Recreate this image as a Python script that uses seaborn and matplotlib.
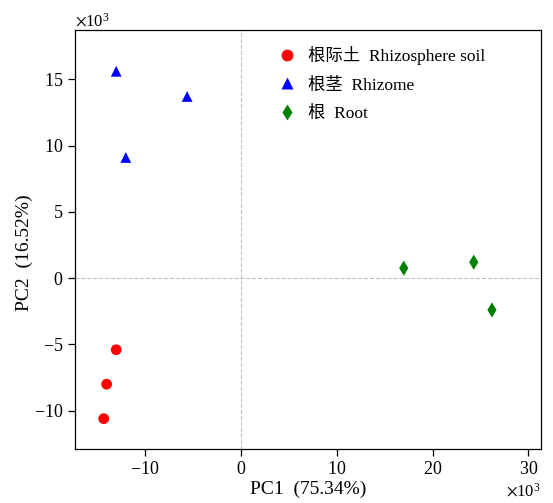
import pandas as pd
import matplotlib
matplotlib.use("Agg")
import matplotlib.pyplot as plt
import seaborn as sns
from matplotlib.ticker import ScalarFormatter

# =========================
# DATA
# =========================

groups = ["根际土  Rhizosphere soil", "根茎  Rhizome", "根  Root"]

soil_pc1 = [-14300, -14000, -13000]
soil_pc2 = [-10600, -8000, -5400]

rhizome_pc1 = [-13000, -5600, -12000]
rhizome_pc2 = [15600, 13700, 9100]

root_pc1 = [17000, 24300, 26200]
root_pc2 = [750, 1200, -2400]

df = pd.DataFrame({
    "PC1": soil_pc1 + rhizome_pc1 + root_pc1,
    "PC2": soil_pc2 + rhizome_pc2 + root_pc2,
    "group": [groups[0]] * 3 + [groups[1]] * 3 + [groups[2]] * 3,
})

# =========================
# PLOT
# =========================

sns.set_style("ticks", {
    "axes.edgecolor": "black",
    "text.color": "black",
    "axes.labelcolor": "black",
    "xtick.color": "black",
    "ytick.color": "black",
})
plt.rcParams['font.family'] = ['Liberation Serif', 'Noto Sans CJK SC']
plt.rcParams['mathtext.fontset'] = 'stix'

fig, ax = plt.subplots(figsize=(5.53, 5.03), dpi=100)

ax.axvline(0, color='#c0c0c0', linestyle='--', linewidth=0.8, zorder=0)
ax.axhline(0, color='#c0c0c0', linestyle='--', linewidth=0.8, zorder=0)

sns.scatterplot(
    data=df,
    x="PC1",
    y="PC2",
    hue="group",
    style="group",
    palette={groups[0]: 'red', groups[1]: 'blue', groups[2]: 'green'},
    markers={groups[0]: 'o', groups[1]: '^', groups[2]: 'd'},
    s=60,
    edgecolor='none',
    ax=ax,
)

ax.set_xlim(-17300, 31300)
ax.set_ylim(-12900, 18700)
ax.set_xticks([-10000, 0, 10000, 20000, 30000])
ax.set_yticks([-10000, -5000, 0, 5000, 10000, 15000])

for axis in (ax.xaxis, ax.yaxis):
    fmt = ScalarFormatter(useMathText=True)
    fmt.set_powerlimits((3, 3))
    axis.set_major_formatter(fmt)
    axis.get_offset_text().set_fontsize(12)

ax.tick_params(labelsize=13, length=5, width=0.9)
for sp in ax.spines.values():
    sp.set_linewidth(0.9)

ax.set_xlabel("PC1  (75.34%)", fontsize=14, labelpad=2)
ax.set_ylabel("PC2  (16.52%)", fontsize=14)
ax.yaxis.set_label_coords(-0.09, 0.47)

ax.legend(
    loc='upper left',
    bbox_to_anchor=(0.385, 1.0),
    frameon=False,
    fontsize=12.5,
    handletextpad=0.2,
    labelspacing=0.72,
    markerscale=1.1,
)

plt.subplots_adjust(left=0.1356, right=0.978, top=0.940, bottom=0.107)
plt.savefig("out.png", dpi=100)
